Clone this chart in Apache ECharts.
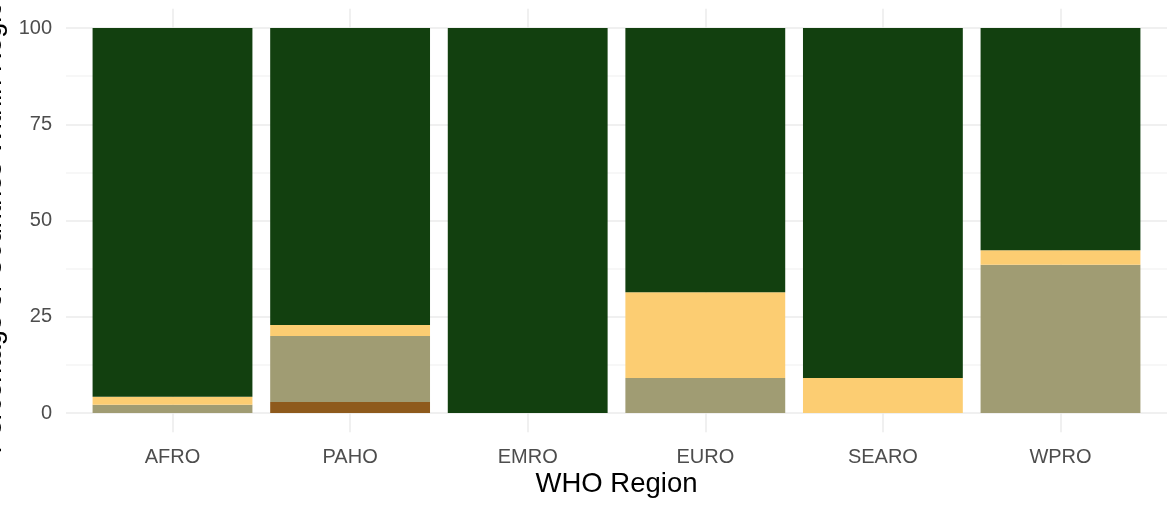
<!DOCTYPE html>
<html>
<head>
<meta charset="utf-8">
<script src="https://cdn.jsdelivr.net/npm/echarts@6/dist/echarts.min.js"></script>
<style>html,body{margin:0;padding:0;background:#fff;}#c{width:1167px;height:505px;}</style>
</head>
<body>
<div id="c"></div>
<script>
const regions = ['AFRO', 'PAHO', 'EMRO', 'EURO', 'SEARO', 'WPRO'];
// percentage of countries within each region, stacked bottom to top
const brownVals  = [0,     2.86,  0,   0,    0,    0];
const tanVals    = [2.13,  17.14, 0,   9.1,  0,    38.5];
const yellowVals = [2.13,  2.86,  0,   22.3, 9.1,  3.8];
const greenVals  = [95.74, 77.14, 100, 68.6, 90.9, 57.7];
const yTicks = [0, 25, 50, 75, 100];

const FONT = 'Liberation Sans, Arial, sans-serif';
const chart = echarts.init(document.getElementById('c'), null, {renderer: 'canvas'});

function barSeries(name, data, color) {
  return {
    name: name, type: 'bar', stack: 'total', data: data,
    xAxisIndex: 2, yAxisIndex: 2, barWidth: '90%',
    itemStyle: {color: color}, emphasis: {disabled: true}, silent: true
  };
}

chart.setOption({
  animation: false,
  backgroundColor: '#ffffff',
  grid: [
    {left: 66, right: 0, top: 28, bottom: 92},
    {left: 172.5, right: 106.5, top: 8.7, bottom: 72.7},
    {left: 83.7, right: 17.7, top: 8.7, bottom: 72.7}
  ],
  xAxis: [
    {gridIndex: 0, type: 'value', min: 0, max: 1, show: false},
    {gridIndex: 1, type: 'category', data: regions, boundaryGap: false,
      axisLine: {show: false}, axisTick: {show: false}, axisLabel: {show: false},
      splitLine: {show: true, lineStyle: {color: '#ebebeb', width: 1.5}}},
    {gridIndex: 2, type: 'category', data: regions,
      axisLine: {show: false}, axisTick: {show: false},
      axisLabel: {fontSize: 20, color: '#4d4d4d', fontFamily: FONT, margin: 15},
      splitLine: {show: false}}
  ],
  yAxis: [
    {gridIndex: 0, type: 'value', min: 0, max: 100, interval: 12.5,
      axisLine: {show: false}, axisTick: {show: false},
      axisLabel: {fontSize: 20, color: '#4d4d4d', fontFamily: FONT, margin: 14,
        formatter: function (v) { return yTicks.indexOf(v) >= 0 ? String(v) : ''; }},
      splitLine: {show: true, lineStyle: {color: ['#ebebeb', '#f4f4f4'], width: 1.5}}},
    {gridIndex: 1, type: 'value', min: -5, max: 105, show: false},
    {gridIndex: 2, type: 'value', min: -5, max: 105, show: false}
  ],
  graphic: [
    {type: 'text', x: 616.5, y: 484, silent: true,
      style: {text: 'WHO Region', fontSize: 27.5, fill: '#000000', fontFamily: FONT,
        textAlign: 'center', textVerticalAlign: 'middle'}},
    {type: 'text', x: 7, y: 220, rotation: Math.PI / 2, silent: true,
      style: {text: 'Percentage of Countries Within Region', fontSize: 27, fill: '#000000',
        fontFamily: FONT, textAlign: 'center', textVerticalAlign: 'bottom'}}
  ],
  series: [
    {type: 'line', xAxisIndex: 0, yAxisIndex: 0, data: [], silent: true},
    {type: 'line', xAxisIndex: 1, yAxisIndex: 1, data: [], silent: true},
    barSeries('Brown', brownVals, '#8e5a1c'),
    barSeries('Tan', tanVals, '#a09c73'),
    barSeries('Yellow', yellowVals, '#fccd72'),
    barSeries('Green', greenVals, '#12400f')
  ]
});
</script>
</body>
</html>
